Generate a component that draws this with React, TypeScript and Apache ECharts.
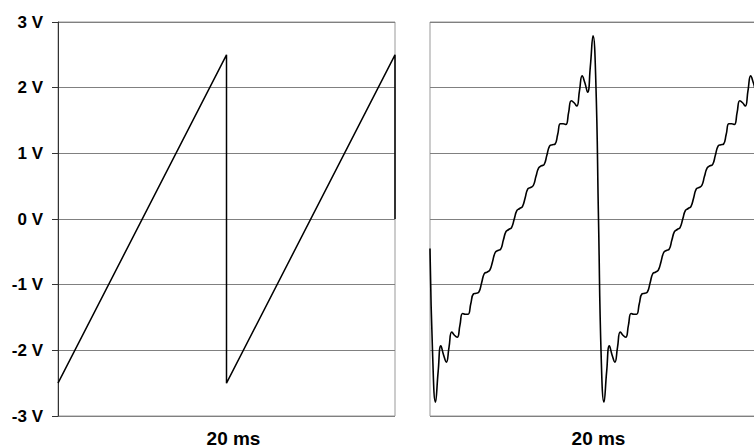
import React, { useEffect, useRef } from "react";
import * as echarts from "echarts";

// Y axis ticks (volts)
const yMin = -3;
const yMax = 3;
const yStep = 1;

// X axis (milliseconds), each panel spans two periods
const xMin = 0;
const xMax = 40;
const xStep = 20;
const xLabelValue = 20;
const xLabelText = "20 ms";

// Left panel: ideal sawtooth
const sawTimes = [0, 20, 20, 40, 40];
const sawVolts = [-2.5, 2.5, -2.5, 2.5, 0];

// Right panel: band-limited sawtooth
const fourierTimes = [
  0, 0.32, 0.65, 0.97, 1.29, 1.61, 1.94, 2.26, 2.58, 2.9,
  3.23, 3.55, 3.87, 4.19, 4.52, 4.84, 5.16, 5.48, 5.81, 6.13,
  6.45, 6.77, 7.1, 7.42, 7.74, 8.06, 8.39, 8.71, 9.03, 9.35,
  9.68, 10.0, 10.32, 10.65, 10.97, 11.29, 11.61, 11.94, 12.26, 12.58,
  12.9, 13.23, 13.55, 13.87, 14.19, 14.52, 14.84, 15.16, 15.48, 15.81,
  16.13, 16.45, 16.77, 17.1, 17.42, 17.74, 18.06, 18.39, 18.71, 19.03,
  19.35, 19.68, 20.0, 20.32, 20.65, 20.97, 21.29, 21.61, 21.94, 22.26,
  22.58, 22.9, 23.23, 23.55, 23.87, 24.19, 24.52, 24.84, 25.16, 25.48,
  25.81, 26.13, 26.45, 26.77, 27.1, 27.42, 27.74, 28.06, 28.39, 28.71,
  29.03, 29.35, 29.68, 30.0, 30.32, 30.65, 30.97, 31.29, 31.61, 31.94,
  32.26, 32.58, 32.9, 33.23, 33.55, 33.87, 34.19, 34.52, 34.84, 35.16,
  35.48, 35.81, 36.13, 36.45, 36.77, 37.1, 37.42, 37.74, 38.06, 38.39,
  38.71, 39.03, 39.35, 39.68, 40.0,
];
const fourierVolts = [
  -0.45, -2.1, -2.79, -2.32, -1.93, -2.07, -2.18, -1.95, -1.72, -1.77,
  -1.8, -1.62, -1.44, -1.45, -1.45, -1.29, -1.14, -1.13, -1.11, -0.97,
  -0.83, -0.81, -0.78, -0.65, -0.51, -0.48, -0.46, -0.32, -0.19, -0.16,
  -0.13, 0.0, 0.13, 0.16, 0.19, 0.32, 0.46, 0.48, 0.51, 0.65,
  0.78, 0.81, 0.83, 0.97, 1.11, 1.13, 1.14, 1.29, 1.45, 1.45,
  1.44, 1.62, 1.8, 1.77, 1.72, 1.95, 2.18, 2.07, 1.93, 2.32,
  2.79, 2.1, 0.0, -2.1, -2.79, -2.32, -1.93, -2.07, -2.18, -1.95,
  -1.72, -1.77, -1.8, -1.62, -1.44, -1.45, -1.45, -1.29, -1.14, -1.13,
  -1.11, -0.97, -0.83, -0.81, -0.78, -0.65, -0.51, -0.48, -0.46, -0.32,
  -0.19, -0.16, -0.13, 0.0, 0.13, 0.16, 0.19, 0.32, 0.46, 0.48,
  0.51, 0.65, 0.78, 0.81, 0.83, 0.97, 1.11, 1.13, 1.14, 1.29,
  1.45, 1.45, 1.44, 1.62, 1.8, 1.77, 1.72, 1.95, 2.18, 2.07,
  1.93, 2.32, 2.79, 2.1, 0.0,
];

const FONT = "'Liberation Sans', Arial, Helvetica, sans-serif";

export default function App() {
  const ref = useRef<HTMLDivElement>(null);

  useEffect(() => {
    if (!ref.current) return;
    const chart = echarts.init(ref.current, null, { renderer: "svg" });

    const yAxis = (gridIndex: number, withLabels: boolean) => ({
      type: "value",
      gridIndex,
      min: yMin,
      max: yMax,
      interval: yStep,
      axisLine: {
        show: withLabels,
        lineStyle: { color: "#333333", width: 1 },
      },
      axisTick: {
        show: withLabels,
        length: 6,
        lineStyle: { color: "#333333", width: 1 },
      },
      axisLabel: {
        show: withLabels,
        margin: 15,
        formatter: (v: number) => `${v} V`,
        fontFamily: FONT,
        fontWeight: "bold",
        fontSize: 17,
        color: "#000000",
      },
      splitLine: { show: true, lineStyle: { color: "#808080", width: 1 } },
    });

    const xAxis = (gridIndex: number, shift: number) => ({
      type: "value",
      gridIndex,
      min: xMin,
      max: xMax,
      interval: xStep,
      axisLine: { show: false },
      axisTick: { show: false },
      splitLine: { show: false },
      axisLabel: {
        margin: 13,
        formatter: (v: number) => (v === xLabelValue ? xLabelText : ""),
        fontFamily: FONT,
        fontWeight: "bold",
        fontSize: 19,
        color: "#000000",
        padding: [0, 0, 0, shift],
      },
    });

    chart.setOption({
      animation: false,
      backgroundColor: "#ffffff",
      grid: [
        {
          left: 58,
          top: 22,
          width: 337,
          height: 394,
          show: true,
          borderColor: "#999999",
          borderWidth: 1,
        },
        {
          left: 430,
          top: 22,
          width: 337,
          height: 394,
          show: true,
          borderColor: "#999999",
          borderWidth: 1,
        },
      ],
      xAxis: [xAxis(0, 14), xAxis(1, 0)],
      yAxis: [yAxis(0, true), yAxis(1, false)],
      series: [
        {
          type: "line",
          xAxisIndex: 0,
          yAxisIndex: 0,
          data: sawTimes.map((t, i) => [t, sawVolts[i]]),
          showSymbol: false,
          lineStyle: { color: "#000000", width: 1.5 },
        },
        {
          type: "line",
          xAxisIndex: 1,
          yAxisIndex: 1,
          data: fourierTimes.map((t, i) => [t, fourierVolts[i]]),
          showSymbol: false,
          smooth: 0.5,
          lineStyle: { color: "#000000", width: 1.6 },
        },
      ],
    });

    return () => chart.dispose();
  }, []);

  return (
    <div
      style={{
        position: "absolute",
        left: 0,
        top: 0,
        width: 754,
        height: 448,
        overflow: "hidden",
        background: "#ffffff",
      }}
    >
      <div ref={ref} style={{ width: 780, height: 448 }} />
    </div>
  );
}
